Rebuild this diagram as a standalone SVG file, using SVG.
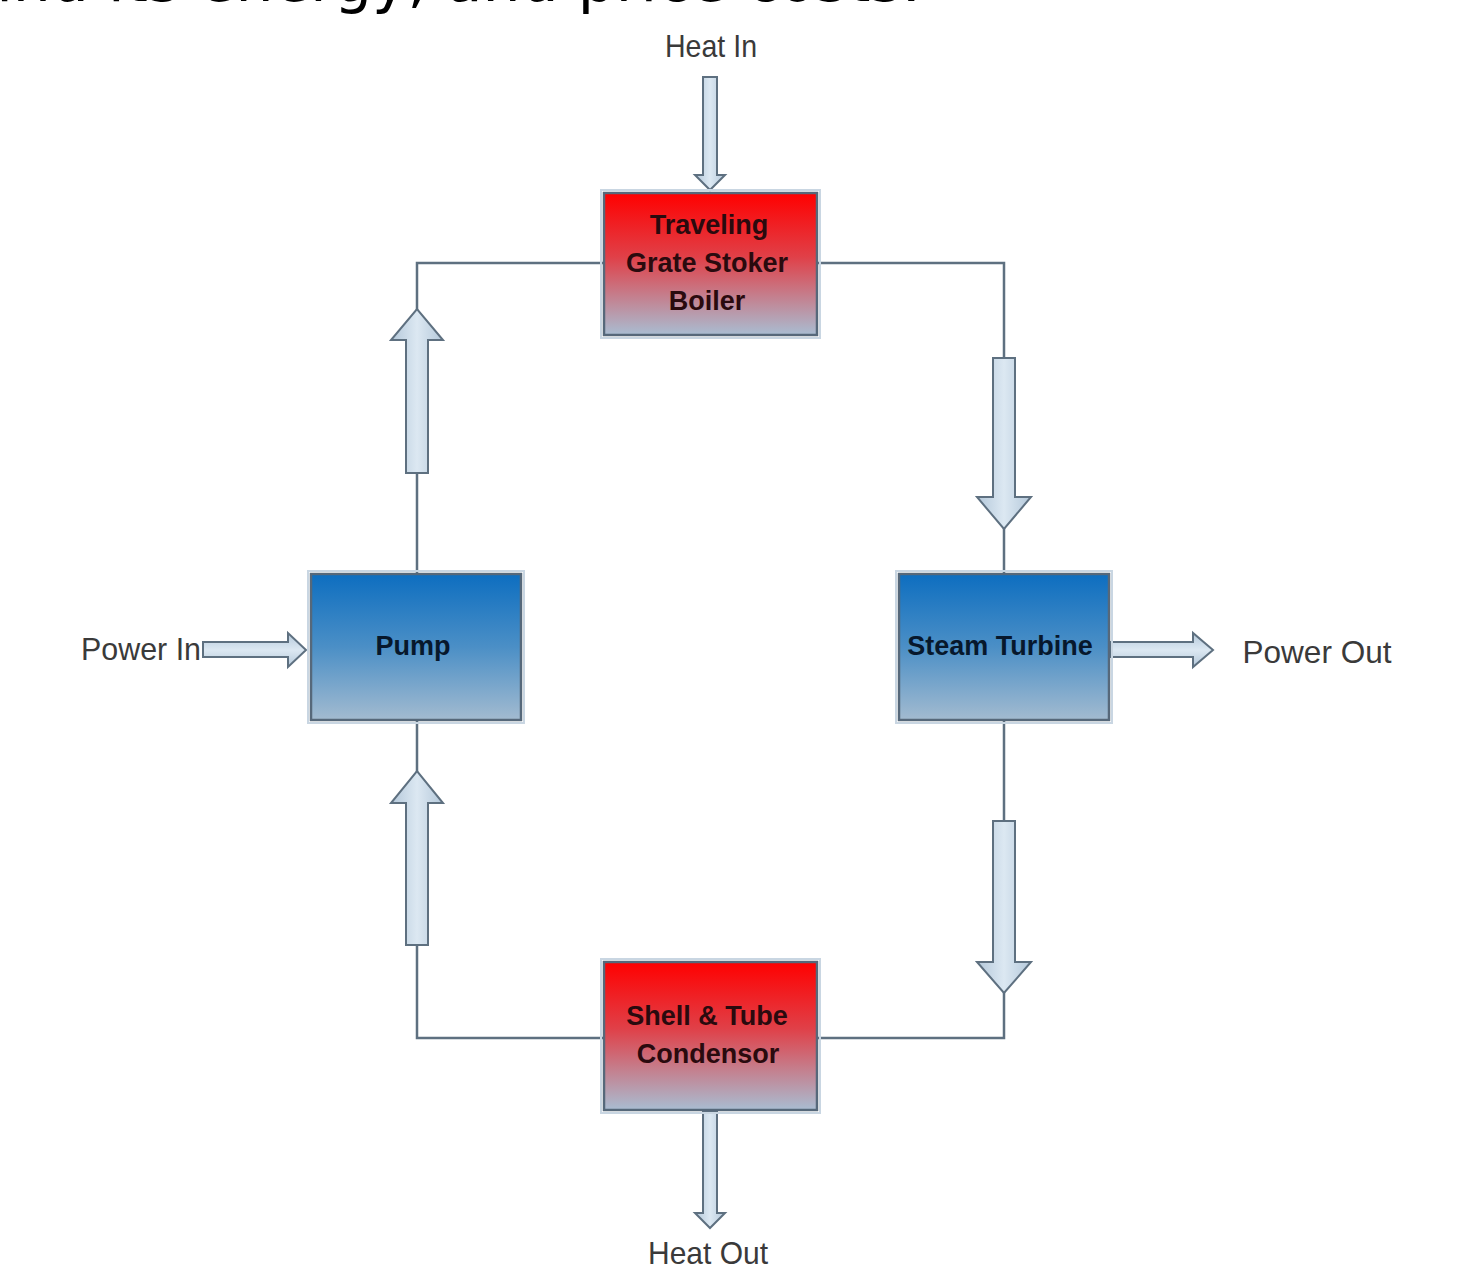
<svg xmlns="http://www.w3.org/2000/svg" width="1458" height="1273" viewBox="0 0 1458 1273">
<defs>
<linearGradient id="gRed" x1="0" y1="0" x2="0" y2="1">
<stop offset="0" stop-color="#ff0000"/>
<stop offset="0.45" stop-color="#e04048"/>
<stop offset="1" stop-color="#a9bdd2"/>
</linearGradient>
<linearGradient id="gBlue" x1="0" y1="0" x2="0" y2="1">
<stop offset="0" stop-color="#0d6ec0"/>
<stop offset="0.5" stop-color="#4b8fc6"/>
<stop offset="1" stop-color="#a3bbd0"/>
</linearGradient>
<linearGradient id="gArrV" x1="0" y1="0" x2="1" y2="0">
<stop offset="0" stop-color="#b4c8da"/>
<stop offset="0.5" stop-color="#dce8f2"/>
<stop offset="1" stop-color="#b4c8da"/>
</linearGradient>
<linearGradient id="gArrH" x1="0" y1="0" x2="0" y2="1">
<stop offset="0" stop-color="#b4c8da"/>
<stop offset="0.5" stop-color="#dce8f2"/>
<stop offset="1" stop-color="#b4c8da"/>
</linearGradient>
</defs>
<style>
.box{stroke:#56687a;stroke-width:2.5}
.halo{fill:none;stroke:#c9d6e2;stroke-width:2}
.lbl{font-family:"Liberation Sans",Arial,sans-serif;font-weight:bold;font-size:27px;text-anchor:middle}
.rt{fill:#2a0a0e}
.bt{fill:#07182c}
.ext{font-family:"Liberation Sans",Arial,sans-serif;font-size:32px;fill:#3a3a3a;text-anchor:middle;lengthAdjust:spacingAndGlyphs}
.conn{fill:none;stroke:#5e7080;stroke-width:2.5}
.arrv{fill:url(#gArrV);stroke:#5e7080;stroke-width:2;stroke-linejoin:miter}
.arrh{fill:url(#gArrH);stroke:#5e7080;stroke-width:2;stroke-linejoin:miter}
.top{font-family:"DejaVu Sans",sans-serif;font-size:60px;fill:#000}
</style>
<rect width="1458" height="1273" fill="#ffffff"/>
<text class="top" x="-24" y="1">and its energy, and price costs.</text>

<g id="connectors">
<polyline class="conn" points="604,263 417,263 417,574"/>
<polyline class="conn" points="817,263 1004,263 1004,574"/>
<polyline class="conn" points="1004,720 1004,1038 817,1038"/>
<polyline class="conn" points="604,1038 417,1038 417,720"/>
<!-- flow arrows -->
<path class="arrv" d="M406,473 L406,340 L391,340 L417,309 L443,340 L428,340 L428,473 Z"/>
<path class="arrv" d="M406,945 L406,803 L391,803 L417,771 L443,803 L428,803 L428,945 Z"/>
<path class="arrv" d="M993,358 L993,497 L977,497 L1004,529 L1031,497 L1015,497 L1015,358 Z"/>
<path class="arrv" d="M993,821 L993,962 L977,962 L1004,993 L1031,962 L1015,962 L1015,821 Z"/>
<!-- heat in / heat out -->
<path class="arrv" d="M703,77 L703,175 L695,175 L710,190 L725,175 L717,175 L717,77 Z"/>
<path class="arrv" d="M703,1111 L703,1213 L695,1213 L710,1228 L725,1213 L717,1213 L717,1111 Z"/>
<!-- power in / out -->
<path class="arrh" d="M203,642 L288,642 L288,633 L306,650 L288,667 L288,657 L203,657 Z"/>
<path class="arrh" d="M1110,642 L1193,642 L1193,633 L1213,650 L1193,667 L1193,657 L1110,657 Z"/>
</g>

<g id="boiler">
<rect class="halo" x="601" y="190" width="219" height="148"/>
<rect class="box" x="604" y="193" width="213" height="142" fill="url(#gRed)"/>
<text class="lbl rt" x="709" y="234">Traveling</text>
<text class="lbl rt" x="707" y="272">Grate Stoker</text>
<text class="lbl rt" x="707" y="310">Boiler</text>
</g>

<g id="pump">
<rect class="halo" x="308" y="571" width="216" height="152"/>
<rect class="box" x="311" y="574" width="210" height="146" fill="url(#gBlue)"/>
<text class="lbl bt" x="413" y="655">Pump</text>
</g>

<g id="turbine">
<rect class="halo" x="896" y="571" width="216" height="152"/>
<rect class="box" x="899" y="574" width="210" height="146" fill="url(#gBlue)"/>
<text class="lbl bt" x="1000" y="655">Steam Turbine</text>
</g>

<g id="condensor">
<rect class="halo" x="601" y="959" width="219" height="154"/>
<rect class="box" x="604" y="962" width="213" height="148" fill="url(#gRed)"/>
<text class="lbl rt" x="707" y="1025">Shell &amp; Tube</text>
<text class="lbl rt" x="708" y="1063">Condensor</text>
</g>

<g id="labels">
<text class="ext" x="711" y="57" textLength="92" lengthAdjust="spacingAndGlyphs">Heat In</text>
<text class="ext" x="141" y="660" textLength="120" lengthAdjust="spacingAndGlyphs">Power In</text>
<text class="ext" x="1317" y="663" textLength="149" lengthAdjust="spacingAndGlyphs">Power Out</text>
<text class="ext" x="708" y="1264" textLength="120" lengthAdjust="spacingAndGlyphs">Heat Out</text>
</g>
</svg>
